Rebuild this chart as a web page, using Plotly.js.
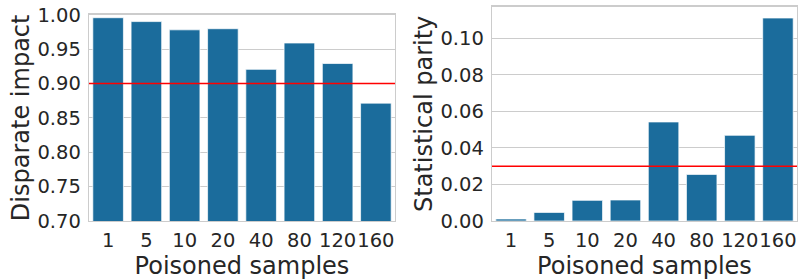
<!DOCTYPE html>
<html>
<head>
<meta charset="utf-8">
<script src="https://cdn.plot.ly/plotly-3.0.1.min.js"></script>
<style>html,body{margin:0;padding:0;background:#fff;}#chart{width:800px;height:280px;}</style>
</head>
<body>
<div id="chart"></div>
<script>
const samples = ['1', '5', '10', '20', '40', '80', '120', '160'];
const disparateImpact = [0.9956, 0.990, 0.978, 0.9796, 0.9205, 0.9588, 0.929, 0.8714];
const statisticalParity = [0.0011, 0.0047, 0.0113, 0.0115, 0.0542, 0.0255, 0.0469, 0.1111];
const diThreshold = 0.90;
const spThreshold = 0.03;
const diTicks = [0.70, 0.75, 0.80, 0.85, 0.90, 0.95, 1.00];
const spTicks = [0.00, 0.02, 0.04, 0.06, 0.08, 0.10];

const barColor = '#1b6c9c';
const textColor = '#262626';
const gridColor = '#cccccc';
const font = 'DejaVu Sans, sans-serif';

const traces = [
  {type: 'bar', x: samples, y: disparateImpact, xaxis: 'x', yaxis: 'y',
   marker: {color: barColor, line: {color: 'rgba(255,255,255,0.7)', width: 1}}, hoverinfo: 'none'},
  {type: 'bar', x: samples, y: statisticalParity, xaxis: 'x2', yaxis: 'y2',
   marker: {color: barColor, line: {color: 'rgba(255,255,255,0.7)', width: 1}}, hoverinfo: 'none'}
];

function xAx(domain, anchor) {
  return {domain: domain, anchor: anchor, type: 'category',
    showline: true, mirror: true, linecolor: gridColor, linewidth: 1.25,
    showgrid: false, zeroline: false, ticks: '', ticklabelstandoff: 1, tickangle: 0,
    tickfont: {family: font, size: 19.5, color: textColor},
    title: {text: 'Poisoned samples', font: {family: font, size: 24, color: textColor}, standoff: 0}};
}
function yAx(domain, anchor, range, ticks, title) {
  return {domain: domain, anchor: anchor, range: range,
    tickvals: ticks, tickformat: '.2f',
    showline: true, mirror: true, linecolor: gridColor, linewidth: 1.25,
    showgrid: true, gridcolor: gridColor, gridwidth: 1, zeroline: false,
    ticks: '', ticklabelstandoff: 3,
    tickfont: {family: font, size: 19.5, color: textColor},
    title: {text: title, font: {family: font, size: 24, color: textColor}, standoff: 1}};
}

const layout = {
  width: 800, height: 280,
  margin: {l: 0, r: 0, t: 0, b: 0},
  paper_bgcolor: '#fff', plot_bgcolor: '#fff',
  showlegend: false, bargap: 0.2,
  xaxis: xAx([89/800, 395/800], 'y'),
  yaxis: yAx([1 - 221/280, 1 - 14.7/280], 'x', [0.70, 1.00], diTicks, 'Disparate impact'),
  xaxis2: xAx([492/800, 797/800], 'y2'),
  yaxis2: yAx([1 - 221/280, 1 - 6.7/280], 'x2', [0, 0.1173], spTicks, 'Statistical parity'),
  shapes: [
    {type: 'line', xref: 'x domain', yref: 'y', x0: 0, x1: 1, y0: diThreshold, y1: diThreshold,
     line: {color: 'red', width: 1.5}, layer: 'above'},
    {type: 'line', xref: 'x2 domain', yref: 'y2', x0: 0, x1: 1, y0: spThreshold, y1: spThreshold,
     line: {color: 'red', width: 1.5}, layer: 'above'}
  ]
};

Plotly.newPlot('chart', traces, layout, {staticPlot: true, displayModeBar: false});
</script>
</body>
</html>
